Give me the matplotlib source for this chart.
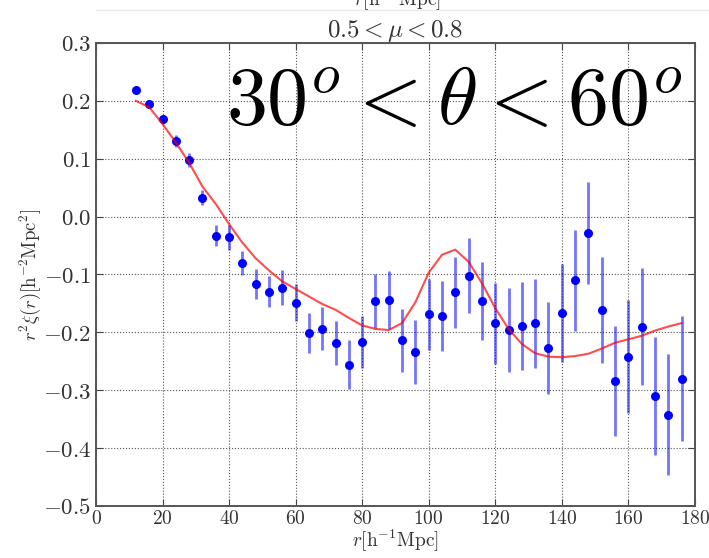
import numpy as np
import matplotlib
matplotlib.use("Agg")
import matplotlib.pyplot as plt
from matplotlib.lines import Line2D
from matplotlib.ticker import FuncFormatter

plt.rcParams['mathtext.fontset'] = 'cm'
plt.rcParams['font.family'] = 'serif'
plt.rcParams['font.serif'] = ['DejaVu Serif']
plt.rcParams['xtick.direction'] = 'in'
plt.rcParams['ytick.direction'] = 'in'

# binned correlation function measurement, 0.5 < mu < 0.8
r = [12, 16, 20, 24, 28, 32, 36, 40, 44, 48, 52, 56, 60, 64, 68, 72, 76, 80, 84, 88, 92,
     96, 100, 104, 108, 112, 116, 120, 124, 128, 132, 136, 140, 144, 148, 152, 156, 160,
     164, 168, 172, 176]
xi = [0.218, 0.195, 0.168, 0.131, 0.098, 0.033, -0.033, -0.036, -0.080, -0.116, -0.130,
      -0.123, -0.149, -0.201, -0.194, -0.219, -0.256, -0.217, -0.146, -0.144, -0.214,
      -0.234, -0.169, -0.172, -0.131, -0.102, -0.146, -0.184, -0.196, -0.189, -0.184,
      -0.227, -0.167, -0.110, -0.029, -0.161, -0.284, -0.242, -0.190, -0.310, -0.342,
      -0.280]
err = [0.003, 0.005, 0.008, 0.010, 0.012, 0.013, 0.018, 0.021, 0.021, 0.026, 0.027,
       0.030, 0.032, 0.035, 0.037, 0.038, 0.042, 0.045, 0.047, 0.050, 0.054, 0.055,
       0.061, 0.060, 0.061, 0.065, 0.068, 0.070, 0.072, 0.076, 0.077, 0.079, 0.085,
       0.087, 0.088, 0.092, 0.095, 0.098, 0.101, 0.102, 0.104, 0.108]

# model curve
model = [0.200, 0.189, 0.160, 0.128, 0.093, 0.052, 0.022, -0.013, -0.045, -0.072, -0.093,
         -0.112, -0.125, -0.138, -0.151, -0.161, -0.175, -0.188, -0.194, -0.196, -0.184,
         -0.148, -0.097, -0.066, -0.057, -0.078, -0.115, -0.158, -0.194, -0.220, -0.236,
         -0.242, -0.243, -0.241, -0.237, -0.228, -0.218, -0.212, -0.206, -0.197, -0.190,
         -0.184]


def fmt_y(v, p):
    if abs(v) < 1e-9:
        v = 0.0
    return r'$%.1f$' % v


fig = plt.figure(figsize=(7.09, 5.58), dpi=100)
ax = fig.add_axes([0.1354, 0.0932, 0.8446, 0.8298])

ax.errorbar(r, xi, yerr=err, fmt='none', ecolor='blue', elinewidth=2, alpha=0.55, zorder=2)
ax.plot(r, xi, 'o', color='blue', markersize=6.5, markeredgewidth=0, zorder=3)
ax.plot(r, model, '-', color='red', lw=1.5, alpha=0.7, zorder=4)

ax.set_xlim(0, 180)
ax.set_ylim(-0.5, 0.3)
ax.set_xticks(np.arange(0, 181, 20))
ax.set_yticks(np.arange(-0.5, 0.31, 0.1))
ax.xaxis.set_major_formatter(FuncFormatter(lambda v, p: r'$%d$' % v))
ax.yaxis.set_major_formatter(FuncFormatter(fmt_y))
ax.tick_params(top=True, right=True, length=5, width=0.8, color='#444444')
ax.tick_params(axis='x', labelsize=14, pad=3)
ax.tick_params(axis='y', labelsize=16.5)
ax.grid(True, linestyle=':', color='#555555', lw=0.8)
for s in ax.spines.values():
    s.set_linewidth(1.4)
    s.set_color('#555555')

ax.set_xlabel(r'$r[\mathrm{h^{-1}Mpc}]$', fontsize=14, color='#333333', labelpad=0)
ax.set_ylabel(r'$r^2\xi(r)[\mathrm{h^{-2}Mpc^2}]$', fontsize=13.5, color='#333333', labelpad=0)
ax.set_title(r'$0.5<\mu<0.8$', fontsize=18, color='#333333', pad=4)
for lab in ax.get_xticklabels() + ax.get_yticklabels():
    lab.set_color('#333333')

ax.text(39, 0.16, r'$30^o<\theta<60^o$', fontsize=59, color='black', zorder=5)

# bottom of the panel above, cut off at the figure edge
fig.text(0.56, 1.0, r'$r[\mathrm{h^{-1}Mpc}]$', fontsize=14, color='#333333',
         ha='center', va='center')
fig.add_artist(Line2D([0.135, 1.0], [1 - 10 / 558, 1 - 10 / 558], color='#e8e8e8', lw=1))

fig.savefig('out.png', dpi=100)
